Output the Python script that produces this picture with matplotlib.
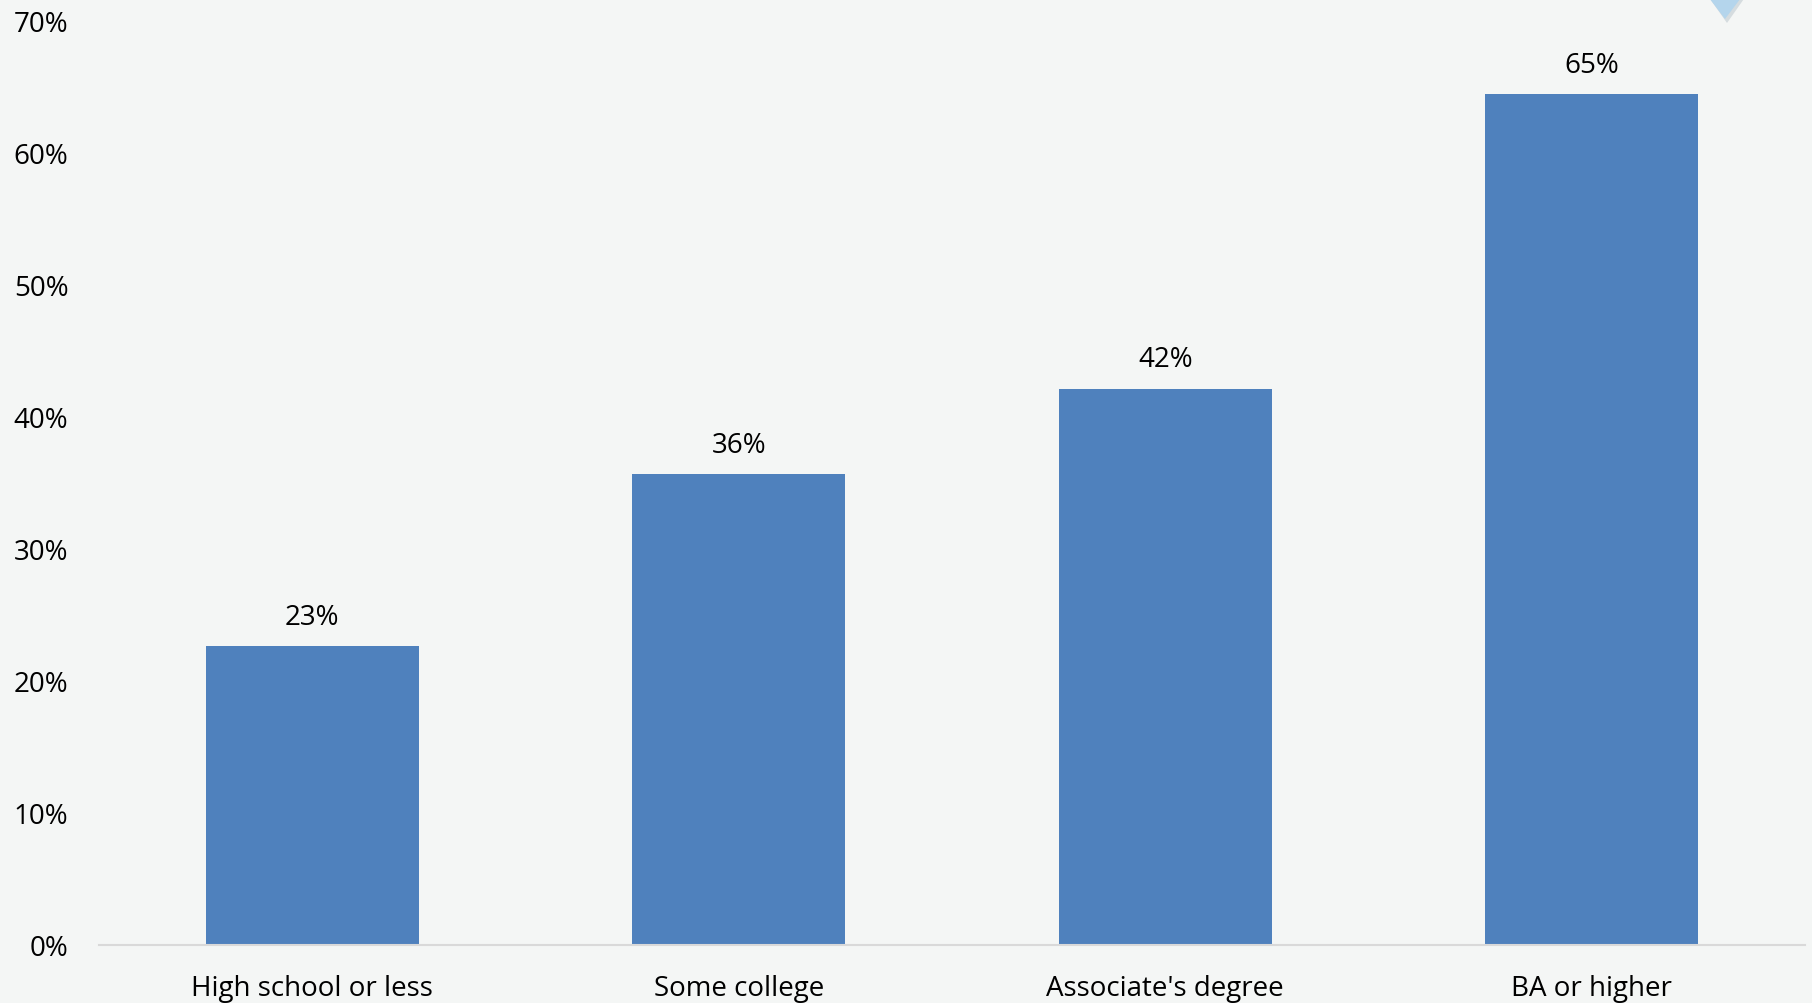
import matplotlib
matplotlib.use("Agg")
import matplotlib.pyplot as plt
from matplotlib.patches import Polygon

categories = ["High school or less", "Some college", "Associate's degree", "BA or higher"]
values = [22.6, 35.6, 42.1, 64.4]
value_labels = ["23%", "36%", "42%", "65%"]
yticks = [0, 10, 20, 30, 40, 50, 60, 70]
ytick_labels = ["0%", "10%", "20%", "30%", "40%", "50%", "60%", "70%"]

plt.rcParams['font.family'] = ['Open Sans', 'DejaVu Sans']
BG = "#f4f6f5"
BAR = "#4f81bd"

fig = plt.figure(figsize=(18.12, 10.04), dpi=100, facecolor=BG)
ax = fig.add_axes([99/1812, 58.3/1004, 1706/1812, (983-58.3)/1004])
ax.set_facecolor(BG)

x = range(len(categories))
bars = ax.bar(x, values, width=0.5, color=BAR, zorder=2)
for xi, v, lab in zip(x, values, value_labels):
    ax.annotate(lab, (xi, v), xytext=(0, 11), textcoords="offset points",
                ha="center", va="bottom", fontsize=20, color="black")

ax.set_xlim(-0.5, len(categories) - 0.5)
ax.set_ylim(0, 70)
ax.set_yticks(yticks)
ax.set_yticklabels(ytick_labels, fontsize=20)
ax.set_xticks(list(x))
ax.set_xticklabels(categories, fontsize=20)
ax.tick_params(axis="y", length=0, pad=22)
ax.tick_params(axis="x", length=0, pad=21)
for s in ["top", "right", "left"]:
    ax.spines[s].set_visible(False)
ax.spines["bottom"].set_color("#d9d9d9")
ax.spines["bottom"].set_linewidth(1.5)

# decorative clipped triangle marker at top right (figure pixel coords)
W, H = 1812, 1004
tri = Polygon([(1700 / W, (H + 13) / H), (1750 / W, (H + 13) / H), (1725 / W, (H - 20) / H)],
              closed=True, transform=fig.transFigure, facecolor="#b4d5ec",
              edgecolor="none", zorder=5)
shadow = Polygon([(1701 / W, (H + 13) / H), (1753 / W, (H + 13) / H), (1727 / W, (H - 24) / H)],
                 closed=True, transform=fig.transFigure, facecolor="#d5dcdf",
                 edgecolor="none", zorder=4)
fig.patches.extend([shadow, tri])

fig.savefig("out.png", dpi=100, facecolor=BG)
